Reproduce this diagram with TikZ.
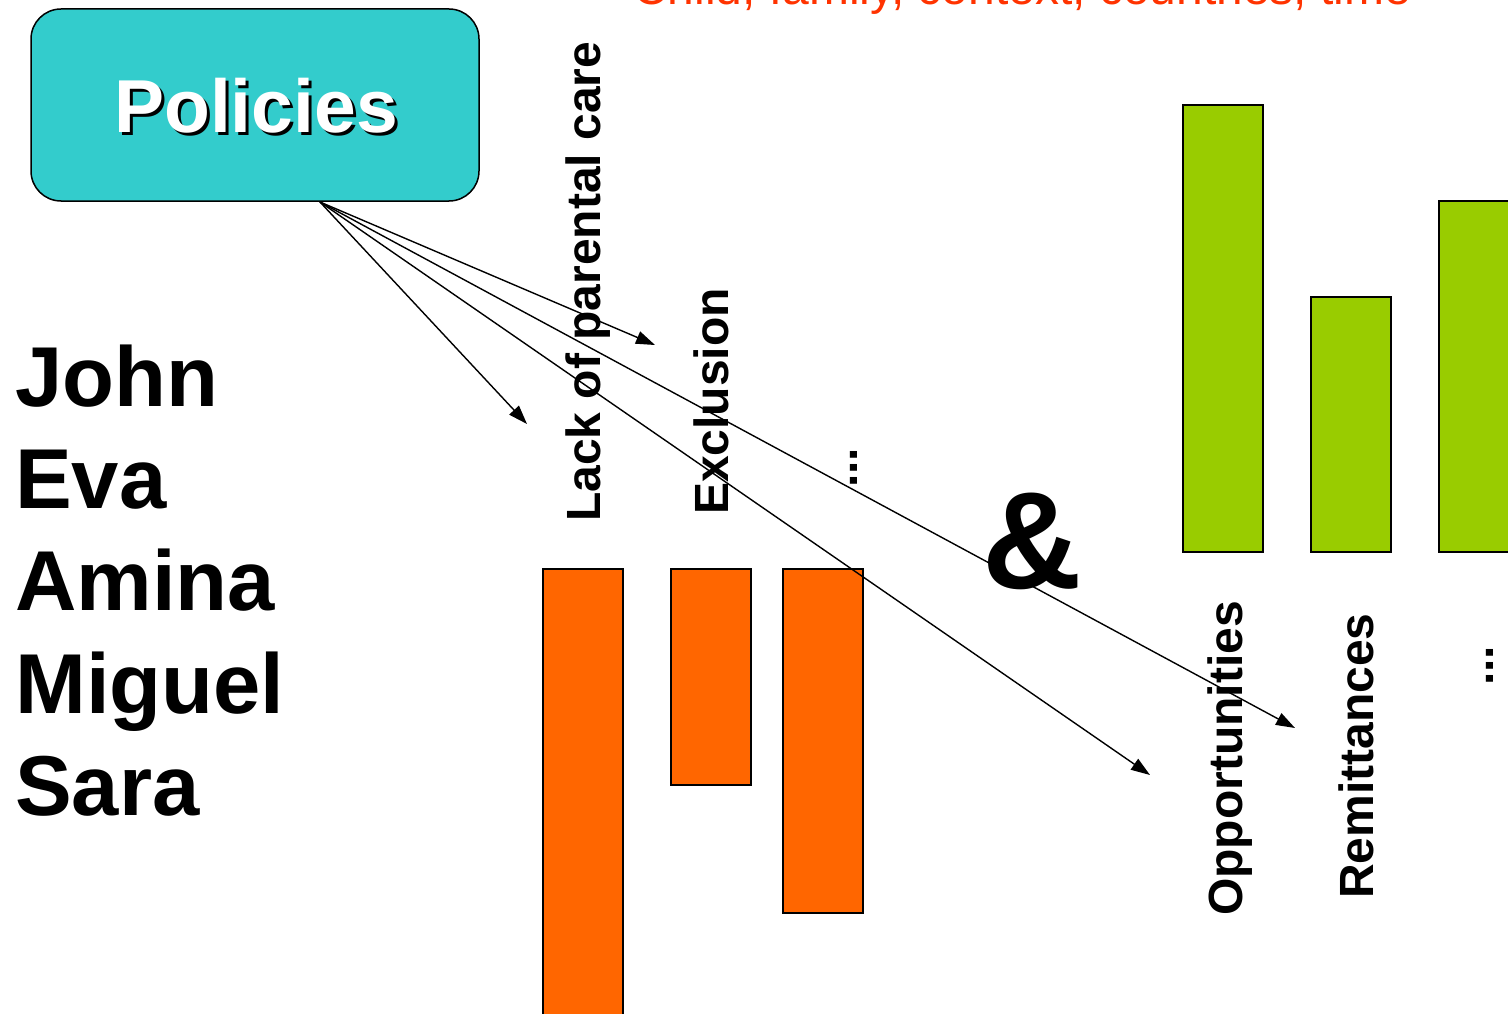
\documentclass[tikz,border=0pt]{standalone}
\usepackage{fontspec}
\setmainfont{Liberation Sans}
\usetikzlibrary{arrows.meta}
\definecolor{tealbox}{HTML}{33CCCC}
\definecolor{orng}{HTML}{FF6600}
\definecolor{grn}{HTML}{99CC00}
\definecolor{redtxt}{HTML}{FF3300}
\begin{document}
\begin{tikzpicture}[x=1pt,y=-1pt,
  bar/.style={draw=black, line width=2pt},
  vlabel/.style={rotate=90, anchor=base west, inner sep=0pt, font=\fontsize{48}{56}\selectfont\bfseries},
  personlabel/.style={anchor=base west, inner sep=0pt, font=\fontsize{85}{100}\selectfont\bfseries},
  arr/.style={line width=1.4pt, -{Triangle[length=19pt,width=13pt]}},
  poltext/.style={inner sep=0pt, font=\fontsize{75}{90}\selectfont\bfseries}]
\useasboundingbox (0,0) rectangle (1508,1014);
\begin{scope}
\clip (0,0) rectangle (1508,1014);
\fill[white] (0,0) rectangle (1508,1014);
% orange bars
\draw[bar, fill=orng] (543,569) rectangle (623,1030);
\draw[bar, fill=orng] (671,569) rectangle (751,785);
\draw[bar, fill=orng] (783,569) rectangle (863,913);
% green bars
\draw[bar, fill=grn] (1183,105) rectangle (1263,552);
\draw[bar, fill=grn] (1311,297) rectangle (1391,552);
\draw[bar, fill=grn] (1439,201) rectangle (1530,552);
% vertical labels
\node[vlabel] (lack) at (600,522) {Lack of parental care};
\node[vlabel] (excl) at (728,515) {Exclusion};
\node[vlabel] (dotsA) at (857,488) {...};
\node[vlabel] (opp) at (1242,916) {Opportunities};
\node[vlabel] (remit) at (1373,899) {Remittances};
\node[vlabel] (dotsB) at (1493,686) {...};
% red heading (cut off at the top)
\node[anchor=base west, inner sep=0pt, text=redtxt, font=\fontsize{48}{56}\selectfont] (head) at (633,5) {Child, family, context, countries, time};
% names
\node[personlabel] (john) at (15,406) {John};
\node[personlabel] (eva) at (15,508) {Eva};
\node[personlabel] (amina) at (15,610) {Amina};
\node[personlabel] (miguel) at (15,713) {Miguel};
\node[personlabel] (sara) at (15,815) {Sara};
% arrows
\coordinate (o) at (320,202);
\coordinate (e1) at (527,424);
\coordinate (e2) at (655,345);
\coordinate (e3) at (1150,775);
\coordinate (e4) at (1295,728);
\draw[arr] (o) -- (e1);
\draw[arr] (o) -- (e2);
\draw[arr] (o) -- (e3);
\draw[arr] (o) -- (e4);
% ampersand
\node[anchor=base, inner sep=0pt, font=\fontsize{138}{150}\selectfont\bfseries] (amp) at (1032,588) {\&};
% policies box
\node[draw=black, line width=1.5pt, fill=tealbox, rounded corners=30pt, minimum width=448pt, minimum height=192pt, inner sep=0pt] (pol) at (255,105) {};
\node[poltext, text=black] (polshadow) at (259,109) {Policies};
\node[poltext, text=white] (poltitle) at (256,106) {Policies};
\end{scope}
\end{tikzpicture}
\end{document}
